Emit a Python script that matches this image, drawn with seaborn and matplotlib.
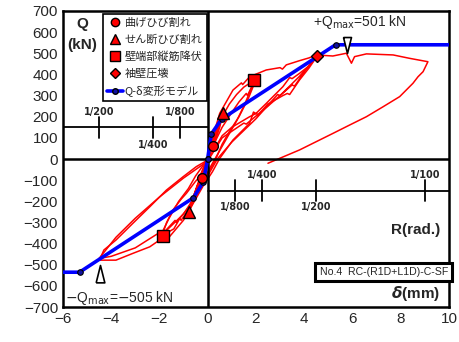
import numpy as np
import seaborn as sns
import matplotlib.pyplot as plt
from matplotlib.lines import Line2D

# hysteresis loops, delta (mm) and Q (kN)
cyc1_d = [0, 0.1, 0.2, 0.25, 0.15, 0.0, -0.1, -0.2, -0.22, -0.1, 0.0]
cyc1_q = [0, 40, 70, 80, 50, 0, -50, -90, -100, -60, -10]

cyc2_d = [0, 0.1, 0.25, 0.4, 0.55, 0.62, 0.5, 0.35, 0.2, 0.05, -0.1, -0.3, -0.5, -0.7, -0.8,
          -0.65, -0.45, -0.25, -0.05, 0.1, 0.3, 0.45, 0.6, 0.5, 0.3, 0.1, -0.2, -0.5, -0.75,
          -0.6, -0.3, 0.0]
cyc2_q = [0, 50, 110, 160, 200, 215, 170, 120, 70, 20, -30, -110, -180, -230, -250,
          -200, -130, -70, -10, 40, 100, 150, 200, 150, 80, 20, -60, -160, -235,
          -180, -90, -10]

cyc3_d = [0.0, 0.1, 0.3, 0.6, 0.9, 1.2, 1.5, 1.7, 1.75, 1.9, 2.0, 1.8, 1.5, 1.2, 0.9, 0.6, 0.3,
          0.1, -0.2, -0.5, -0.8, -1.1, -1.15, -1.4, -1.7, -1.9, -1.7, -1.44, -1.1, -0.88,
          -0.5, -0.33, 0.0]
cyc3_q = [-10, 40, 120, 200, 260, 305, 340, 355, 345, 380, 390, 330, 250, 180, 120, 60, 0,
          -40, -110, -180, -240, -290, -280, -330, -350, -365, -300, -241, -190, -162,
          -105, -84, 10]

cyc4_d = [0.0, 0.3, 0.6, 1.0, 1.3, 1.6, 1.65, 1.9, 2.0, 1.7, 1.3, 0.9, 0.6, 0.3, -0.3, -0.8,
          -1.3, -1.35, -1.8, -1.9, -1.6, -1.2, -0.8, -0.5, 0.0]
cyc4_q = [10, 80, 150, 220, 270, 310, 300, 360, 375, 290, 200, 130, 70, -10, -130, -230,
          -300, -290, -345, -350, -280, -200, -140, -80, 0]

cyc5_d = [0.0, 0.2, 0.5, 1.05, 1.4, 1.45, 1.74, 2.43, 3.0, 3.1, 3.26, 3.81, 4.2, 4.5, 4.2, 3.81,
          3.5, 3.4, 3.12, 2.43, 2.0, 1.9, 1.74, 1.05, 0.5, 0.2, -0.2, -0.6, -1.0, -1.58, -1.7,
          -2.4, -3.1, -3.8, -4.48, -4.3, -3.8, -3.1, -2.4, -1.71, -1.02, -0.47, 0.0, 0.3,
          0.6, 1.0, 1.74, 2.0, 2.1, 2.5, 3.12, 3.3, 3.4, 3.81, 4.2, 4.5]
cyc5_q = [0, 100, 216, 326, 360, 352, 389, 421, 432, 425, 445, 465, 478, 492, 440, 405,
          380, 385, 342, 263, 215, 222, 169, 90, 3, -60, -130, -210, -289, -367, -360,
          -415, -446, -478, -478, -430, -383, -304, -226, -147, -84, -36, -5, 50,
          110, 150, 200, 215, 210, 260, 300, 310, 305, 374, 430, 480]

cyc6_d = [4.5, 3.8, 3.0, 2.9, 2.0, 1.0, 0.4, -0.2, -1.0, -2.0, -2.1, -3.0, -4.0, -4.5,
          -3.8, -3.0, -2.0, -1.0, 0.0, 0.6, 1.5, 1.6, 2.5, 3.5, 3.6, 4.5]
cyc6_q = [480, 390, 300, 305, 190, 80, 0, -120, -260, -370, -355, -420, -460, -470,
          -370, -280, -180, -90, -10, 100, 170, 165, 250, 350, 345, 490]

cyc7_d = [4.5, 5.19, 5.75, 5.96, 6.09, 6.58, 7.69, 8.37, 9.13, 8.93, 8.72, 8.51, 7.96,
          7.27, 6.58, 5.89, 5.19, 4.5, 3.81, 2.98, 2.5]
cyc7_q = [492, 487, 500, 453, 484, 497, 492, 476, 460, 413, 389, 358, 295,
          247, 200, 161, 121, 82, 43, 3, -20]

loops = [(cyc1_d, cyc1_q), (cyc2_d, cyc2_q), (cyc3_d, cyc3_q), (cyc4_d, cyc4_q),
         (cyc5_d, cyc5_q), (cyc6_d, cyc6_q), (cyc7_d, cyc7_q)]

# Q-delta model (trilinear)
model_pos_d = [0, 0.15, 0.58, 5.3, 10]
model_pos_q = [0, 118, 189, 540, 540]
model_neg_d = [0, -0.18, -0.59, -5.31, -6]
model_neg_q = [0, -109, -183, -535, -535]

# events
flex_crack = ([0.22, -0.22], [62, -92])
shear_crack = ([0.62, -0.79], [217, -249])
bar_yield = ([1.91, -1.87], [373, -364])
wall_crush = ([4.52], [487])

qmax_pos = (5.77, 501)
qmax_neg = (-4.48, -501)

# drift angle axis: rad labels and delta positions
r_labels = ['1/800', '1/400', '1/200', '1/100']
r_delta = [1.125, 2.25, 4.5, 9.0]

sns.set_style('white')
plt.rcParams['font.family'] = ['Liberation Sans', 'DejaVu Sans']

fig = plt.figure(figsize=(4.59, 3.42), dpi=100)
ax = fig.add_axes([0.137, 0.102, 0.841, 0.866])

for d, q in loops:
    sns.lineplot(x=d, y=q, sort=False, estimator=None, color='red', lw=1.1, ax=ax)

ax.axhline(0, color='black', lw=1.8, zorder=3)
ax.axvline(0, color='black', lw=1.8, zorder=3)

for d, q in [(model_pos_d, model_pos_q), (model_neg_d, model_neg_q)]:
    sns.lineplot(x=d, y=q, sort=False, estimator=None, color='#0000ff', lw=2.6, ax=ax, zorder=4)
    ax.plot(d[:-1], q[:-1], 'o', ms=4, mfc='#1010a0', mec='black', mew=0.8, zorder=5)

mk = dict(ls='none', mfc='red', mec='black', mew=1.0, zorder=6)
ax.plot(*flex_crack, marker='o', ms=7, **mk)
ax.plot(*shear_crack, marker='^', ms=8, **mk)
ax.plot(*bar_yield, marker='s', ms=8, **mk)
ax.plot(*wall_crush, marker='D', ms=6.5, **mk)

down_tri = [(-0.5, 2), (0.5, 2), (0, 0), (-0.5, 2)]
up_tri = [(-0.5, -2), (0.5, -2), (0, 0), (-0.5, -2)]
ax.plot(*qmax_pos, marker=down_tri, ms=23, mfc='white', mec='black', mew=1.2, zorder=7)
ax.plot(*qmax_neg, marker=up_tri, ms=25, mfc='white', mec='black', mew=1.2, zorder=7)
ax.text(6.3, 648, r'+Q$_{\rm max}$=501 kN', fontsize=10, ha='center', va='center')
ax.text(-5.93, -655, r'$-$Q$_{\rm max}$=$-$505 kN', fontsize=10, ha='left', va='center')

# drift angle scales
ax.plot([-6, 0], [150, 150], color='black', lw=1.3, zorder=3)
ax.plot([0, 10], [-150, -150], color='black', lw=1.3, zorder=3)
for i, (lab, d) in enumerate(zip(r_labels, r_delta)):
    up = i % 2 == 1
    ax.plot([d, d], [-100, -200], color='black', lw=1.3, zorder=3)
    ax.text(d, -76 if up else -228, lab, fontsize=7, fontweight='bold',
            ha='center', va='center', family='DejaVu Sans')
    if i < 3:
        ax.plot([-d, -d], [100, 200], color='black', lw=1.3, zorder=3)
        ax.text(-d, 66 if up else 222, lab, fontsize=7, fontweight='bold',
                ha='center', va='center', family='DejaVu Sans')

ax.text(-5.2, 637, 'Q', fontsize=11, fontweight='bold', ha='center', va='center')
ax.text(-5.2, 540, '(kN)', fontsize=11, fontweight='bold', ha='center', va='center')
ax.text(9.65, -336, 'R(rad.)', fontsize=11, fontweight='bold', ha='right', va='center')
ax.text(9.65, -634, r'$\boldsymbol{\delta}$(mm)', fontsize=11, fontweight='bold',
        ha='right', va='center')
ax.text(7.3, -535, 'No.4  RC-(R1D+L1D)-C-SF', fontsize=7.6, ha='center', va='center',
        family=['Liberation Sans Narrow', 'Liberation Sans'],
        bbox=dict(boxstyle='square,pad=0.4', fc='white', ec='black', lw=2.2), zorder=8)

ax.set_xlim(-6, 10)
ax.set_ylim(-700, 700)
ax.set_xticks(np.arange(-6, 11, 2))
ax.set_yticks(np.arange(-700, 701, 100))
ax.tick_params(direction='in', length=4, width=1.2, labelsize=11, color='black')
for s in ax.spines.values():
    s.set_linewidth(1.8)
    s.set_color('black')

handles = [
    Line2D([], [], ls='none', marker='o', ms=6, mfc='red', mec='black'),
    Line2D([], [], ls='none', marker='^', ms=7, mfc='red', mec='black'),
    Line2D([], [], ls='none', marker='s', ms=7, mfc='red', mec='black'),
    Line2D([], [], ls='none', marker='D', ms=5.5, mfc='red', mec='black'),
    Line2D([], [], color='#0000ff', lw=2.6, marker='o', ms=4, mfc='#1010a0', mec='black',
           markevery=[1]),
]
labels = ['曲げひび割れ', 'せん断ひび割れ', '壁端部縦筋降伏', '袖壁圧壊', 'Q-δ変形モデル']
leg = ax.legend(handles, labels, loc='upper left', bbox_to_anchor=(0.103, 0.99),
                prop={'family': ['Noto Sans CJK JP', 'DejaVu Sans'], 'size': 8},
                frameon=True, fancybox=False, edgecolor='black', framealpha=1,
                handlelength=1.5, handletextpad=0.15, labelspacing=0.6,
                borderpad=0.35, borderaxespad=0)
leg.get_frame().set_linewidth(1.2)
leg.set_zorder(9)

fig.savefig('out.png', dpi=100)
